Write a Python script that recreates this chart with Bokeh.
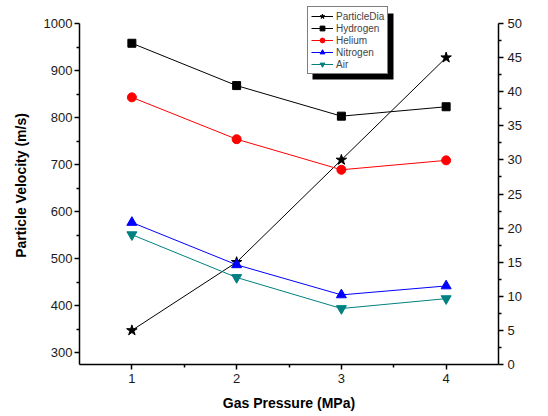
import math
from bokeh.plotting import figure
from bokeh.models import (Range1d, LinearAxis, FixedTicker, Legend, LegendItem,
                          Label, BoxAnnotation)
from bokeh.embed import file_html
from bokeh.resources import INLINE

# ---- data ----
pressure = [1, 2, 3, 4]
hydrogen = [958, 868, 803, 823]
helium = [843, 754, 689, 709]
nitrogen = [577, 487, 423, 442]
air = [551, 460, 394, 415]
particle_dia = [5, 15, 30, 45]

x_ticks = [1, 2, 3, 4]
x_minor = [1.5, 2.5, 3.5]
vel_ticks = [300, 400, 500, 600, 700, 800, 900, 1000]
vel_minor = [350, 450, 550, 650, 750, 850, 950]
dia_ticks = [0, 5, 10, 15, 20, 25, 30, 35, 40, 45, 50]
dia_minor = [2.5, 7.5, 12.5, 17.5, 22.5, 27.5, 32.5, 37.5, 42.5, 47.5]

FONT = "Liberation Sans"

W, H = 548, 416
BL = 79
AX_TOP = 23                # pixel where the y axes end (1000 / 50)
BT = 6                     # frame top (room for the legend)
FR, FB = 498, 364          # frame right / bottom (px)
BR, BB = W - FR, H - FB
X0, X1 = 0.5, 4.5
V0, V1 = 275, 1000         # velocity axis extent
D0, D1 = 0, 50             # diameter axis extent

# extend ranges so that the axes' extents stay at AX_TOP while frame starts higher
v_top = V1 + (AX_TOP - BT) * (V1 - V0) / (FB - AX_TOP)
d_top = D1 + (AX_TOP - BT) * (D1 - D0) / (FB - AX_TOP)

p = figure(width=W, height=H, output_backend="svg", toolbar_location=None,
           x_range=Range1d(X0, X1), y_range=Range1d(V0, v_top),
           min_border_left=BL, min_border_right=BR, min_border_top=BT,
           min_border_bottom=BB)
p.outline_line_color = None
p.xgrid.visible = False
p.ygrid.visible = False
p.background_fill_color = "white"
p.border_fill_color = "white"
p.extra_y_ranges = {"dia": Range1d(D0, d_top)}

right_axis = LinearAxis(y_range_name="dia")
p.add_layout(right_axis, "right")

p.xaxis.ticker = FixedTicker(ticks=x_ticks, minor_ticks=x_minor)
p.yaxis[0].ticker = FixedTicker(ticks=vel_ticks, minor_ticks=vel_minor)
right_axis.ticker = FixedTicker(ticks=dia_ticks, minor_ticks=dia_minor)
p.yaxis[0].bounds = (V0, V1)
right_axis.bounds = (D0, D1)

for ax in [p.xaxis[0], p.yaxis[0], right_axis]:
    ax.axis_line_width = 1.5
    ax.axis_line_color = "black"
    ax.major_tick_line_width = 1.5
    ax.minor_tick_line_width = 1.5
    ax.major_tick_in = 0
    ax.major_tick_out = 5
    ax.minor_tick_in = 0
    ax.minor_tick_out = 3
    ax.major_label_text_font = FONT
    ax.major_label_text_font_size = "13px"
    ax.major_label_text_color = "#1a1a1a"
    ax.axis_label_text_font = FONT
    ax.axis_label_text_font_size = "14px"
    ax.axis_label_text_font_style = "bold"
    ax.axis_label_text_color = "black"

p.xaxis.axis_label = "Gas Pressure (MPa)"
p.xaxis.major_label_standoff = 4
p.xaxis.axis_label_standoff = 9
p.yaxis[0].axis_label = "Particle Velocity (m/s)"
p.yaxis[0].major_label_standoff = 2
p.yaxis[0].axis_label_standoff = 12
right_axis.major_label_standoff = 4

# ---- series ----
series = [
    ("ParticleDia", particle_dia, "black", "star", 11, "dia"),
    ("Hydrogen", hydrogen, "black", "square", 8, "default"),
    ("Helium", helium, "#ff0000", "circle", 9, "default"),
    ("Nitrogen", nitrogen, "#0000ff", "triangle", 10, "default"),
    ("Air", air, "#008080", "inverted_triangle", 10, "default"),
]
items = []
for name, vals, col, mk, sz, rng in series:
    ln = p.line(pressure, vals, line_color=col, line_width=1, y_range_name=rng)
    sc = p.scatter(pressure, vals, marker=mk, size=sz, fill_color=col,
                   line_color=col, y_range_name=rng)
    items.append(LegendItem(label=name, renderers=[ln, sc]))

# frame geometry helpers (pixel -> data) for decorations
def xd(px):
    return X0 + (px - BL) * (X1 - X0) / (FR - BL)
def yd(py):
    return V1 - (py - AX_TOP) * (V1 - V0) / (FB - AX_TOP)

# legend box geometry (px)
LX, LT, LWD, LHT, SH = 307, 8, 81, 66, 5

shadow = BoxAnnotation(left=xd(LX + SH), right=xd(LX + LWD + SH),
                       top=yd(LT + SH), bottom=yd(LT + LHT + SH),
                       fill_color="black", fill_alpha=1.0, line_color=None,
                       level="annotation")
p.add_layout(shadow)

legend = Legend(items=items, location=(LX - BL, FB - (LT + LHT)))
legend.label_text_font = FONT
legend.label_text_font_size = "10px"
legend.glyph_width = 22
legend.glyph_height = 12
legend.label_height = 12
legend.label_standoff = 3
legend.padding = 3
legend.spacing = 0
legend.margin = 0
legend.border_line_color = "black"
legend.border_line_width = 1
legend.background_fill_color = "white"
legend.background_fill_alpha = 1.0
p.add_layout(legend, "center")

# right axis label (reads bottom-to-top like the left one)
rlabel = Label(x=xd(537), y=(V0 + V1) / 2, text="Particle Diameter (um)",
               angle=math.pi / 2, text_align="center", text_baseline="middle",
               text_font=FONT, text_font_size="14px", text_font_style="bold",
               text_color="black")
p.add_layout(rlabel)

open("out.html", "w").write(file_html(p, INLINE))
